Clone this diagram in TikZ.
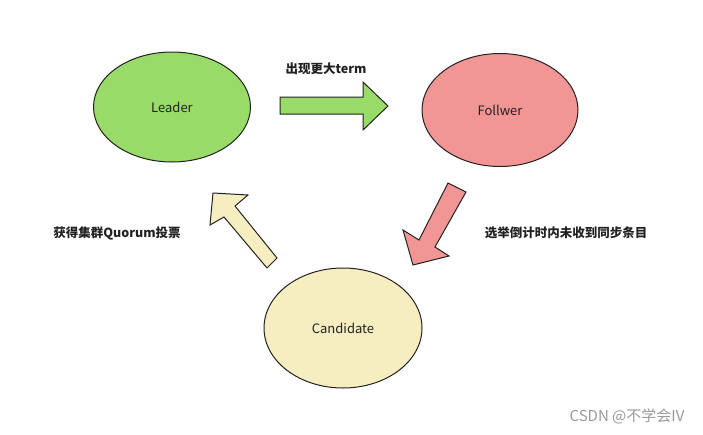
\documentclass[tikz,border=0pt]{standalone}
\usepackage{fontspec}
\setmainfont{Noto Sans CJK SC}
\usetikzlibrary{positioning,shapes.geometric}
\definecolor{leadgreen}{RGB}{152,219,104}
\definecolor{followpink}{RGB}{241,149,149}
\definecolor{candyellow}{RGB}{246,237,192}
\definecolor{edgegray}{RGB}{34,34,34}

\begin{document}
\begin{tikzpicture}[
    x=1pt, y=-1pt,
    state/.style={draw=edgegray, ellipse, line width=1pt, font=\fontsize{13}{15}\selectfont, text=edgegray},
    bigarr/.style={draw=edgegray, line width=1pt, line join=miter},
    lbl/.style={font=\fontsize{12.5}{14}\selectfont\bfseries, text=edgegray},
]
\useasboundingbox (0,0) rectangle (703,434);
% raft states
\node[state, fill=leadgreen, minimum width=157pt, minimum height=110pt] (leader) at (172,107) {Leader};
\node[state, fill=followpink, minimum width=156pt, minimum height=113pt] (follower) at (500,110) {Follwer};
\node[state, fill=candyellow, minimum width=158pt, minimum height=120pt] (candidate) at (343,328) {Candidate};

% transitions
\draw[bigarr, fill=leadgreen] (280,97) -- (363,97) -- (363,82) -- (388,106) -- (363,130) -- (363,114) -- (280,114) -- cycle;
\draw[bigarr, fill=followpink] (448,183) -- (466,192) -- (435,247) -- (449,256) -- (413,265) -- (403,230) -- (419,240) -- cycle;
\draw[bigarr, fill=candyellow] (277,258) -- (267,268) -- (224,217) -- (210,225) -- (213,193) -- (248,195) -- (235,206) -- cycle;

\node[lbl] (up) at (326,69) {出现更大term};
\node[lbl] (vote) at (117,233) {获得集群Quorum投票};
\node[lbl] (timeout) at (566,233) {选举倒计时内未收到同步条目};

\node[font=\fontsize{15}{17}\selectfont, text=black!40] (mark) at (627,416) {CSDN @不学会IV};
\end{tikzpicture}
\end{document}
